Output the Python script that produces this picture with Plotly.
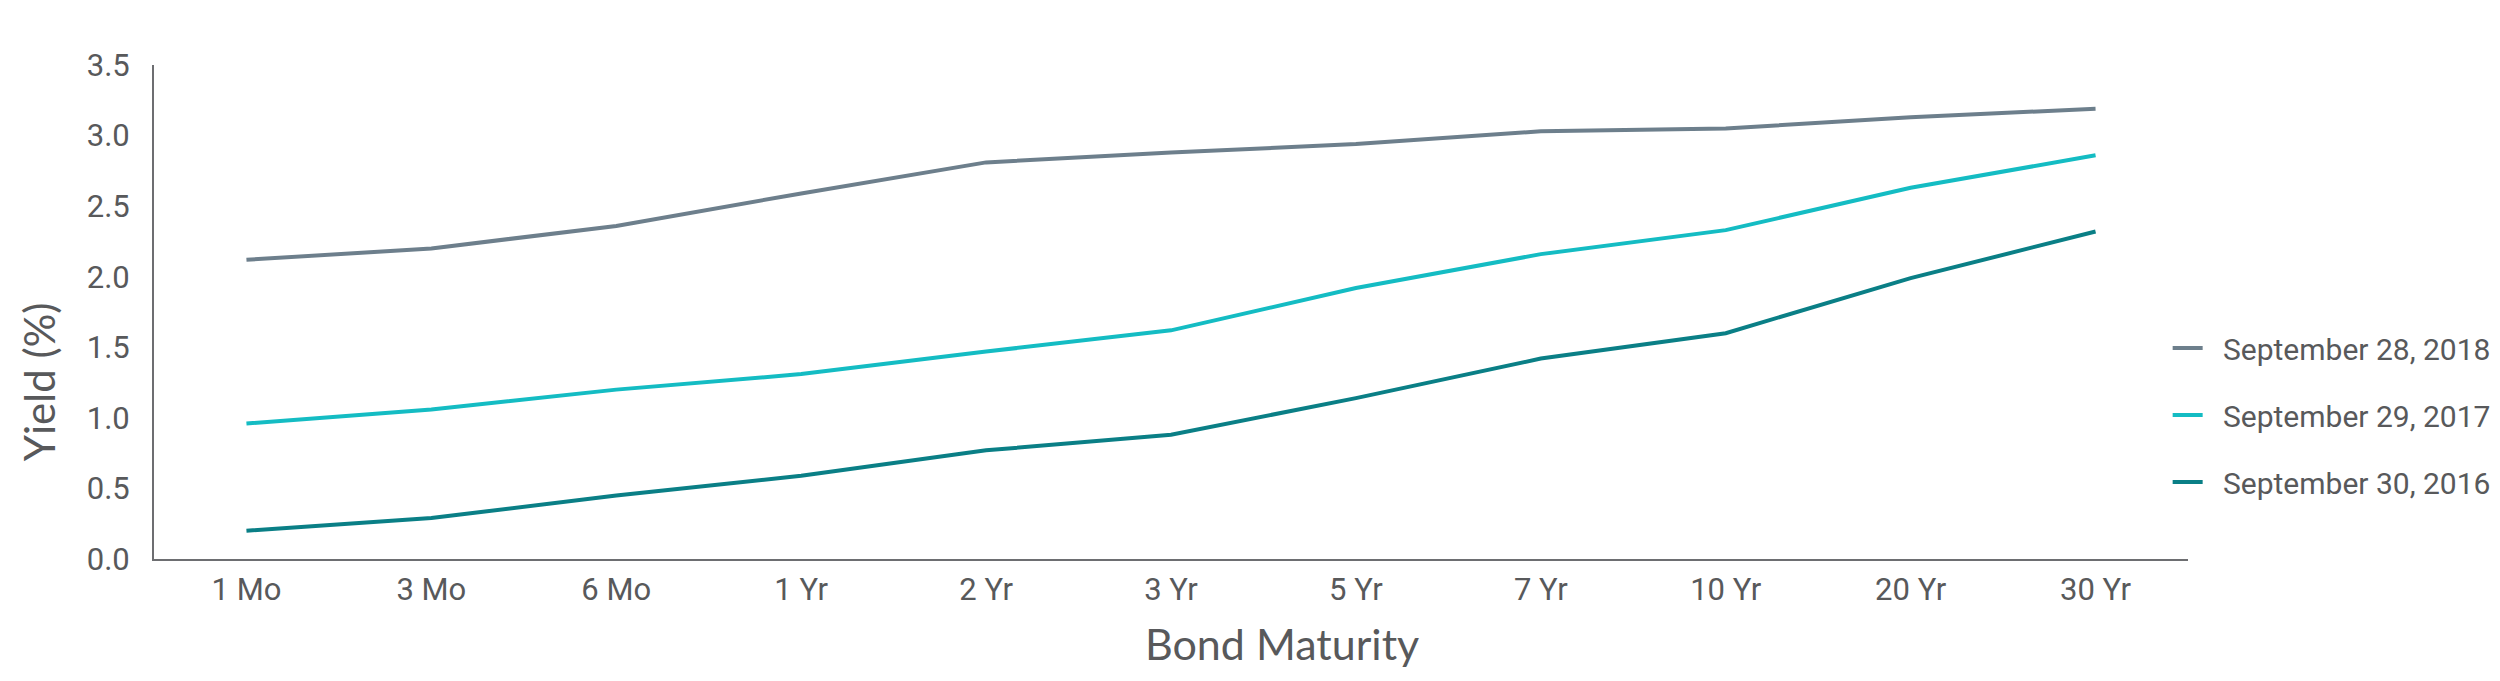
import plotly.graph_objects as go

maturities = ["1 Mo", "3 Mo", "6 Mo", "1 Yr", "2 Yr", "3 Yr", "5 Yr", "7 Yr", "10 Yr", "20 Yr", "30 Yr"]
yield_2018 = [2.12, 2.20, 2.36, 2.59, 2.81, 2.88, 2.94, 3.03, 3.05, 3.13, 3.19]
yield_2017 = [0.96, 1.06, 1.20, 1.31, 1.47, 1.62, 1.92, 2.16, 2.33, 2.63, 2.86]
yield_2016 = [0.20, 0.29, 0.45, 0.59, 0.77, 0.88, 1.14, 1.42, 1.60, 1.99, 2.32]
series_names = ["September 28, 2018", "September 29, 2017", "September 30, 2016"]
y_ticks = [0.0, 0.5, 1.0, 1.5, 2.0, 2.5, 3.0, 3.5]

colors = ["#6d7f8c", "#14bcc3", "#0a7f86"]
text_color = "#58595b"
axis_color = "#6d6e71"
narrow = "Roboto, sans-serif"
wide = "Lato, Noto Sans, sans-serif"

fig = go.Figure()
for i, (name, vals) in enumerate(zip(series_names, [yield_2018, yield_2017, yield_2016])):
    fig.add_trace(go.Scatter(
        x=maturities, y=vals, mode="lines", name="\u2002" + name,
        legendgroup=str(i),
        line=dict(color=colors[i], width=4),
    ))

fig.update_layout(
    width=2500, height=681,
    margin=dict(l=146, r=315, t=57, b=130),
    plot_bgcolor="white", paper_bgcolor="white",
    font=dict(family=narrow, size=31, color=text_color),
    showlegend=True,
    legend=dict(
        x=0.990, xanchor="left", y=0.2915, yanchor="middle",
        font=dict(family=narrow, size=30, color=text_color),
        traceorder="grouped", tracegroupgap=25,
        bgcolor="rgba(0,0,0,0)",
    ),
    xaxis=dict(
        type="category", range=[-0.5, 10.5],
        showline=True, linecolor=axis_color, linewidth=2,
        showgrid=False, zeroline=False, ticks="",
        tickfont=dict(family=narrow, size=31, color=text_color),
        ticklabelstandoff=2,
    ),
    yaxis=dict(
        range=[0, 3.5], tickvals=y_ticks, tickformat=".1f",
        showline=True, linecolor=axis_color, linewidth=2,
        showgrid=False, zeroline=False, ticks="",
        tickfont=dict(family=narrow, size=31, color=text_color),
        ticklabelstandoff=16,
    ),
    annotations=[
        dict(text="Bond Maturity", xref="paper", yref="paper", x=0.5547, y=-0.172,
             xanchor="center", yanchor="middle", showarrow=False,
             font=dict(family=wide, size=43, color=text_color)),
        dict(text="Yield (%)", xref="paper", yref="paper", x=-0.0565, y=0.358,
             xanchor="center", yanchor="middle", showarrow=False, textangle=-90,
             font=dict(family=wide, size=42, color=text_color)),
    ],
)

fig.write_html("out.html")
